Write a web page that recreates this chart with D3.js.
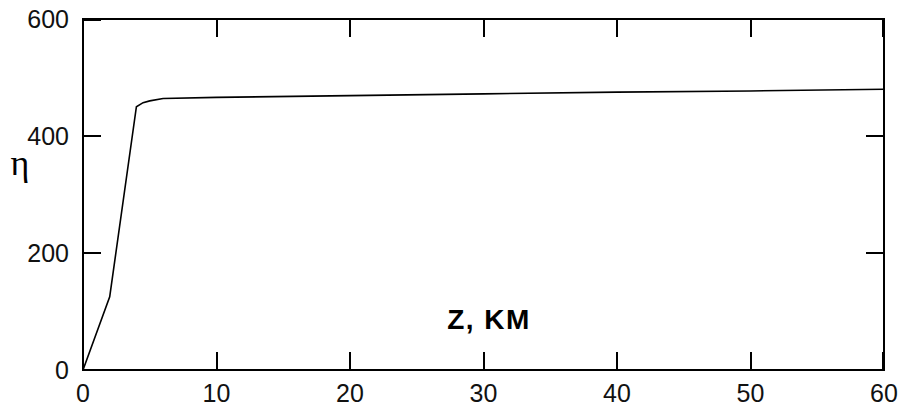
<!DOCTYPE html>
<html>
<head>
<meta charset="utf-8">
<script src="https://cdn.jsdelivr.net/npm/d3@7"></script>
<style>
  html, body { margin: 0; padding: 0; background: #fff; }
  svg { display: block; }
</style>
</head>
<body>
<svg id="chart" width="900" height="407"></svg>
<script>
// Data
const zKm = [0, 2, 4, 4.5, 5, 6, 10, 20, 30, 40, 50, 60];
const etaValues = [0, 125, 450, 457, 460, 464, 466, 469, 472, 475, 477, 480];
const xTickValues = [0, 10, 20, 30, 40, 50, 60];
const yTickValues = [0, 200, 400, 600];
const xLabel = "Z, KM";
const yLabel = "η";

(function () {
const svg = d3.select("#chart");
const pL = 83, pR = 884, pT = 19, pB = 370;
const x = d3.scaleLinear().domain([0, 60]).range([pL, pR]);
const y = d3.scaleLinear().domain([0, 600]).range([pB, pT]);
const tickLen = 18;
const font = "'Liberation Sans', Arial, sans-serif";

// inner ticks on all four sides
const innerX = xTickValues.filter(v => v > 0 && v < 60);
const innerY = yTickValues.filter(v => v > 0 && v < 600);
const tg = svg.append("g").attr("stroke", "#000").attr("stroke-width", 2);
innerX.forEach(v => {
  tg.append("line").attr("x1", Math.round(x(v))).attr("x2", Math.round(x(v)))
    .attr("y1", pB).attr("y2", pB - tickLen);
  tg.append("line").attr("x1", Math.round(x(v))).attr("x2", Math.round(x(v)))
    .attr("y1", pT).attr("y2", pT + tickLen);
});
innerY.forEach(v => {
  tg.append("line").attr("y1", Math.round(y(v))).attr("y2", Math.round(y(v)))
    .attr("x1", pL).attr("x2", pL + tickLen);
  tg.append("line").attr("y1", Math.round(y(v))).attr("y2", Math.round(y(v)))
    .attr("x1", pR).attr("x2", pR - tickLen);
});
// thicker end ticks at corners (as in reference)
tg.append("line").attr("x1", pL).attr("x2", pL + tickLen).attr("y1", y(600) + 0.5).attr("y2", y(600) + 0.5).attr("stroke-width", 3);
tg.append("line").attr("x1", x(60) - 0.5).attr("x2", x(60) - 0.5).attr("y1", pT).attr("y2", pT + tickLen).attr("stroke-width", 3);
tg.append("line").attr("x1", x(60) - 0.5).attr("x2", x(60) - 0.5).attr("y1", pB).attr("y2", pB - tickLen).attr("stroke-width", 3);

// frame
svg.append("rect").attr("x", pL).attr("y", pT)
  .attr("width", pR - pL).attr("height", pB - pT)
  .attr("fill", "none").attr("stroke", "#000").attr("stroke-width", 2);

// tick labels
svg.append("g").selectAll("text").data(xTickValues).join("text")
  .attr("x", d => x(d)).attr("y", 402)
  .attr("text-anchor", "middle")
  .attr("font-family", font).attr("font-size", 25)
  .attr("fill", "#111")
  .text(d => d);
svg.append("g").selectAll("text").data(yTickValues).join("text")
  .attr("x", 69).attr("y", d => y(d) + 9)
  .attr("text-anchor", "end")
  .attr("font-family", font).attr("font-size", 25)
  .attr("fill", "#111")
  .text(d => d);

// curve
const line = d3.line().x((d, i) => x(zKm[i])).y(d => y(d));
svg.append("path").datum(etaValues)
  .attr("d", line)
  .attr("fill", "none").attr("stroke", "#000").attr("stroke-width", 1.6);

// axis titles
svg.append("text").attr("x", 489).attr("y", 329)
  .attr("text-anchor", "middle")
  .attr("font-family", font).attr("font-weight", "bold").attr("font-size", 28)
  .attr("letter-spacing", 1.5)
  .attr("fill", "#000").text(xLabel);
svg.append("text").attr("x", 20).attr("y", 175)
  .attr("text-anchor", "middle")
  .attr("font-family", "'Liberation Serif', 'DejaVu Serif', serif").attr("font-size", 36)
  .attr("fill", "#000").text(yLabel);
})();
</script>
</body>
</html>
